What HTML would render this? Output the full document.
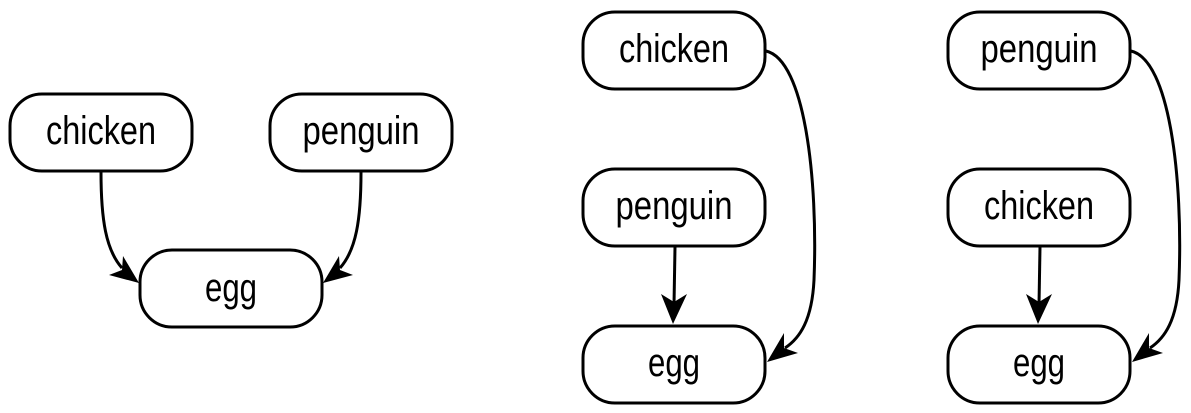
<!DOCTYPE html>
<html><head><meta charset="utf-8"><style>html,body{margin:0;padding:0;background:#fff}svg{display:block}</style></head>
<body>
<svg width="1191" height="413" viewBox="0 0 1191 413" xmlns="http://www.w3.org/2000/svg">
<g fill="#fff" stroke="#000" stroke-width="3">
<rect x="10" y="94" width="182" height="77" rx="32"/>
<rect x="270" y="94" width="182" height="77" rx="32"/>
<rect x="140" y="250" width="182" height="77" rx="32"/>
<rect x="583" y="12" width="182" height="77" rx="32"/>
<rect x="583" y="169" width="182" height="77" rx="32"/>
<rect x="583" y="326" width="182" height="77" rx="32"/>
<rect x="948" y="12" width="182" height="77" rx="32"/>
<rect x="948" y="169" width="182" height="77" rx="32"/>
<rect x="948" y="326" width="182" height="77" rx="32"/>
</g>
<g fill="none" stroke="#000" stroke-width="3">
<path d="M101,172 C101,220 106,250 122,268"/>
<path d="M361,172 C361,220 356,250 340,268"/>
<path d="M675,247 L674,305"/>
<path d="M1040,247 L1039,305"/>
<path d="M766,51 C805,60 818,180 814,280 C812,320 800,338 785,348"/>
<path d="M1131,51 C1170,60 1183,180 1179,280 C1177,320 1165,338 1150,348"/>
</g>
<g fill="#000">
<path d="M139,283 L109,275 L122,270 L123,256 Z"/>
<path d="M323,283 L353,275 L340,270 L339,256 Z"/>
<path d="M673,324 L661,294 L674,302 L687,294 Z"/>
<path d="M1038,324 L1026,294 L1039,302 L1052,294 Z"/>
<path d="M767,362 L784,333 L784,348 L798,353 Z"/>
<path d="M1132,362 L1149,333 L1149,348 L1163,353 Z"/>
</g>
<g font-family="'Liberation Sans Narrow','Liberation Sans',sans-serif" font-size="40" text-anchor="middle" fill="#000">
<text x="101" y="144" textLength="110" lengthAdjust="spacingAndGlyphs">chicken</text>
<text x="361" y="144" textLength="117" lengthAdjust="spacingAndGlyphs">penguin</text>
<text x="231" y="301" textLength="52" lengthAdjust="spacingAndGlyphs">egg</text>
<text x="674" y="62" textLength="110" lengthAdjust="spacingAndGlyphs">chicken</text>
<text x="674" y="219" textLength="117" lengthAdjust="spacingAndGlyphs">penguin</text>
<text x="674" y="376" textLength="52" lengthAdjust="spacingAndGlyphs">egg</text>
<text x="1039" y="62" textLength="117" lengthAdjust="spacingAndGlyphs">penguin</text>
<text x="1039" y="219" textLength="110" lengthAdjust="spacingAndGlyphs">chicken</text>
<text x="1039" y="376" textLength="52" lengthAdjust="spacingAndGlyphs">egg</text>
</g>
</svg>
</body></html>
